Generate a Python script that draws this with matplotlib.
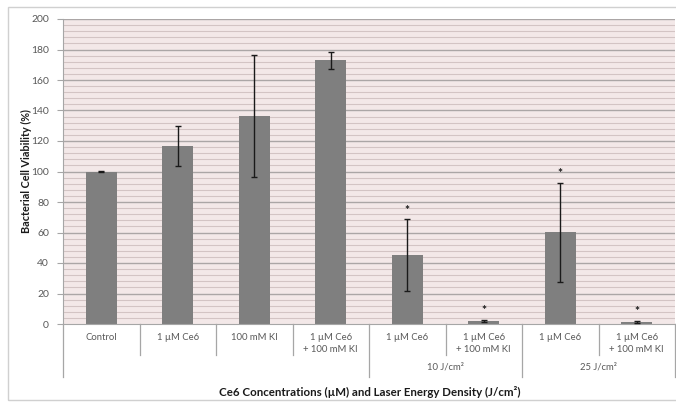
import matplotlib
matplotlib.use("Agg")
import matplotlib.pyplot as plt
from matplotlib.patches import Rectangle
import matplotlib.transforms as mtransforms
import numpy as np

plt.rcParams['font.family'] = ['Lato', 'DejaVu Sans']

# Treatment groups (multi-level category axis)
labels = ["Control", "1 µM Ce6", "100 mM KI", "1 µM Ce6\n+ 100 mM KI",
          "1 µM Ce6", "1 µM Ce6\n+ 100 mM KI",
          "1 µM Ce6", "1 µM Ce6\n+ 100 mM KI"]
groups = ["10 J/cm²", "25 J/cm²"]
group_spans = [(4, 5), (6, 7)]

viability = [100.0, 116.7, 136.4, 172.9, 45.2, 2.0, 60.1, 1.5]
errors = [0.3, 13.0, 40.0, 5.5, 23.5, 0.6, 32.5, 0.6]
significant = [False, False, False, False, True, True, True, True]

bar_color = "#7f7f7f"
plot_bg = "#f3e8e8"
minor_grid = "#d3c4c4"
major_grid = "#aba6a6"
text_gray = "#595959"
axis_gray = "#a6a6a6"

fig = plt.figure(figsize=(6.76, 4.03), dpi=100)
fig.patch.set_facecolor("white")

# Outer chart border
fig.add_artist(Rectangle((8 / 676, 3 / 403), 1.2, 1 - 10 / 403,
                         transform=fig.transFigure, fill=False,
                         edgecolor="#d0d0d0", linewidth=1.0))

ax = fig.add_axes([63 / 676, 1 - 324 / 403, 612 / 676, 305 / 403])
ax.set_facecolor(plot_bg)

x = np.arange(len(viability))
ax.set_xlim(-0.5, len(viability) - 0.5)
ax.set_ylim(0, 200)

# Horizontal gridlines: light every 4, darker every 20
for yv in np.arange(4, 200.1, 4):
    major = abs(yv % 20) < 1e-9
    ax.axhline(yv, color=major_grid if major else minor_grid,
               linewidth=1.0 if major else 0.8, zorder=0.5)

ax.bar(x, viability, width=0.41, color=bar_color, zorder=2)
ax.errorbar(x, viability, yerr=errors, fmt="none", ecolor="#1a1a1a",
            elinewidth=1.0, capsize=2.2, capthick=1.0, zorder=3)

for xi, v, e, sig in zip(x, viability, errors, significant):
    if sig:
        ax.text(xi, v + e + 6.0, "*", ha="center", va="center",
                fontsize=8.5, color="#1a1a1a", fontweight="bold", zorder=4)

# Axes styling
for side in ["top", "right"]:
    ax.spines[side].set_visible(False)
ax.spines["left"].set_color(axis_gray)
ax.spines["bottom"].set_color(axis_gray)
ax.set_yticks(np.arange(0, 201, 20))
ax.tick_params(axis="y", colors=axis_gray, labelcolor=text_gray,
               labelsize=7.5, length=4, width=0.8, pad=6)
ax.set_xticks([])

trans = mtransforms.blended_transform_factory(ax.transData, ax.transAxes)

# Category separators below the axis
short_len = 31 / 305
long_len = 53 / 305
for b in range(len(viability) + 1):
    length = long_len if b in (0, 4, 6, 8) else short_len
    ax.plot([b - 0.5, b - 0.5], [0, -length], transform=trans,
            color=axis_gray, linewidth=0.9, clip_on=False)

for xi, lab in zip(x, labels):
    ax.text(xi, -9 / 305, lab, transform=trans, ha="center", va="top",
            fontsize=6.8, color=text_gray, linespacing=1.45)

for g, (a, b) in zip(groups, group_spans):
    ax.text((a + b) / 2, -39 / 305, g, transform=trans, ha="center",
            va="top", fontsize=6.8, color=text_gray)

ax.set_ylabel("Bacterial Cell Viability (%)", fontsize=7.8, fontweight="bold",
              color="#1a1a1a")
ax.yaxis.set_label_coords(-31 / 612, 0.5)
fig.text(370 / 676, 1 - 392 / 403,
         "Ce6 Concentrations (µM) and Laser Energy Density (J/cm²)",
         ha="center", va="center", fontsize=8.3, fontweight="bold",
         color="#1a1a1a")

fig.savefig("out.png", dpi=100, facecolor="white")
